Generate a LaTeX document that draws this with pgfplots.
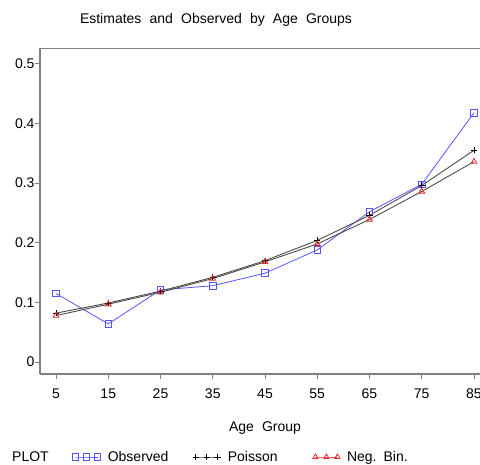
\documentclass[border=0pt]{standalone}
\usepackage{fontspec}
\setmainfont{Liberation Sans}[WordSpace=2.1]
\usepackage{pgfplots}
\pgfplotsset{compat=1.18}
\definecolor{obsblue}{RGB}{85,85,255}
\definecolor{axgray}{RGB}{128,128,128}
\definecolor{nbred}{RGB}{235,40,40}
\begin{document}
\begin{tikzpicture}[font=\fontsize{14bp}{17bp}\selectfont]
\begin{axis}[
  at={(40bp,91bp)}, anchor=south west,
  scale only axis, width=440bp, height=325.7bp,
  xmin=1.935, xmax=86.15, ymin=-0.02, ymax=0.526,
  axis x line*=box, axis y line*=left,
  axis line style={axgray, line width=1.5bp},
  xtick={5,15,25,35,45,55,65,75,85},
  ytick={0,0.1,0.2,0.3,0.4,0.5},
  tick align=outside, xtick pos=bottom, ytick pos=left,
  major tick length=5bp,
  tick style={axgray, line width=0.8bp},
  /pgf/number format/assume math mode=true,
  yticklabel style={/pgf/number format/fixed, /pgf/number format/precision=1, xshift=3bp},
  xticklabel style={yshift=-6bp},
  xlabel={Age Group},
  every axis x label/.style={at={(axis description cs:0.5114,-0.1658)}, anchor=center},
  title={Estimates and Observed by Age Groups},
  every axis title/.style={at={(axis description cs:0.4,1.0869)}, anchor=center},
  legend columns=-1,
  legend cell align=left,
  legend style={at={(axis description cs:-0.0795,-0.2548)}, anchor=west,
    draw=none, fill=none, inner sep=0pt,
    nodes={inner sep=0pt, text width=85bp, align=left},
    /tikz/every odd column/.append style={column sep=7bp}},
  legend image code/.code={\draw[#1] plot coordinates {(0bp,0bp) (11bp,0bp) (22bp,0bp)};},
]
\addlegendimage{empty legend}
\addlegendentry[text width=60bp]{PLOT}
\addplot[obsblue, line width=0.8bp, mark=square, mark size=3.3bp, mark options={solid, line width=0.8bp}]
  coordinates {(5,0.115) (15,0.064) (25,0.121) (35,0.128) (45,0.149) (55,0.188) (65,0.252) (75,0.298) (85,0.418)};
\addlegendentry{Observed}
\addplot[black!70, line width=0.9bp, mark=+, mark size=3bp, mark options={black}]
  coordinates {(5,0.082) (15,0.099) (25,0.119) (35,0.142) (45,0.170) (55,0.204) (65,0.246) (75,0.296) (85,0.355)};
\addlegendentry{Poisson}
\addplot[black!70, line width=0.9bp, mark=triangle, mark size=3.3bp, mark options={nbred, line width=0.8bp},
  legend image code/.code={\draw[nbred, line width=0.8bp, mark=triangle, mark size=3bp] plot coordinates {(0bp,0bp) (11bp,0bp) (22bp,0bp)};}]
  coordinates {(5,0.078) (15,0.097) (25,0.117) (35,0.140) (45,0.168) (55,0.198) (65,0.239) (75,0.286) (85,0.336)};
\addlegendentry{Neg. Bin.}
\end{axis}
\pgfresetboundingbox
\useasboundingbox (0,0) rectangle (480bp,465bp);
\end{tikzpicture}
\end{document}
